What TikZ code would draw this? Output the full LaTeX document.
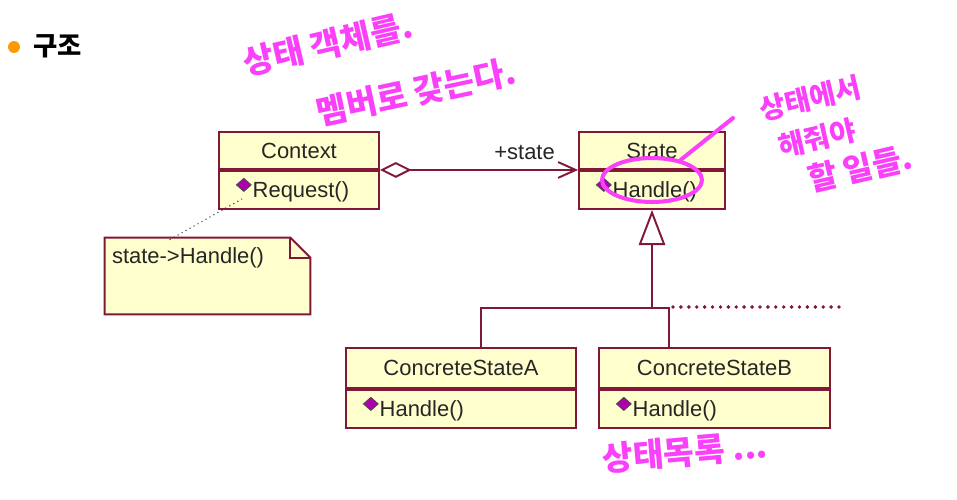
\documentclass[tikz,border=0pt]{standalone}
\usepackage{fontspec}
\setmainfont{Liberation Sans}
\newfontfamily\kr{Noto Sans CJK KR}
\usetikzlibrary{arrows.meta, positioning, shapes.geometric, calc}
\definecolor{umlred}{RGB}{128,24,56}
\definecolor{umlfill}{RGB}{255,255,206}
\definecolor{pen}{RGB}{250,64,250}
\definecolor{bul}{RGB}{255,153,0}
\definecolor{opic}{RGB}{175,0,175}

% small operation marker in front of a method
\newcommand{\opmark}{\tikz[x=1pt,y=1pt,baseline=-3.4pt]{\draw[fill=opic,draw=black!70,line width=0.5pt] (0,3.7)--(4.2,7.4)--(8.4,3.7)--(4.2,0)--cycle;}\hspace{0.6pt}}

\begin{document}
\begin{tikzpicture}[x=0.02cm, y=-0.02cm,
  cls/.style={draw=umlred, fill=umlfill, line width=1.1pt, inner sep=0pt,
              minimum height=0.74cm, font=\fontsize{12.5}{15}\selectfont, text=black!85},
  op/.style={cls, align=left, inner xsep=0.34cm, minimum height=0.76cm},
  umlline/.style={umlred, line width=1.1pt},
  agg/.style={umlline, {Diamond[open,length=18pt,width=9pt]}-{Straight Barb[length=10pt,width=9pt]}},
  gen/.style={umlline, -{Triangle[open,length=20pt,width=15pt]}},
  hand/.style={text=pen, font=\kr\bfseries\fontsize{19}{22}\selectfont, inner sep=0pt},
  penline/.style={pen, line width=2.3pt, line cap=round}
]
\useasboundingbox[fill=white] (0,0) rectangle (957,500);

% title
\node[circle, fill=bul, minimum size=0.24cm, inner sep=0pt] (dot) at (14,47) {};
\node[anchor=west, inner sep=0pt, font=\kr\bfseries\fontsize{15}{18}\selectfont] (ttl) at (33,46) {구조};

% classes
\node[cls, minimum width=3.2cm] (ctx) at (299,150.5) {Context};
\node[op, below=0pt of ctx, text width=2.52cm] (ctxop) {\opmark Request()};
\node[cls, minimum width=2.92cm] (st) at (652,150.5) {State};
\node[op, below=0pt of st, text width=2.24cm] (stop) {\opmark Handle()};
\node[cls, minimum width=4.6cm, minimum height=0.8cm] (csa) at (461,368) {ConcreteStateA};
\node[op, below=0pt of csa, text width=3.92cm] (csaop) {\opmark Handle()};
\node[cls, minimum width=4.62cm, minimum height=0.8cm] (csb) at (714.5,368) {ConcreteStateB};
\node[op, below=0pt of csb, text width=3.94cm] (csbop) {\opmark Handle()};

% note
\node[minimum width=4.1cm, minimum height=1.52cm] (nt) at (207.5,276) {};
\path[draw=umlred, fill=umlfill, line width=1.1pt] (nt.north west) -- ($(nt.north east)+(-20,0)$)
  -- ($(nt.north east)+(0,20)$) -- (nt.south east) -- (nt.south west) -- cycle;
\draw[umlred, line width=1.1pt] ($(nt.north east)+(-20,0)$) |- ($(nt.north east)+(0,20)$);
\node[anchor=west, inner sep=0pt, font=\fontsize{12.5}{15}\selectfont, text=black!85] (ntt)
  at ($(nt.north west)+(7,20)$) {state->Handle()};
\draw[black!80, dotted, line width=0.6pt] ($(nt.north west)+(65,2)$) -- ($(ctxop.west)+(24,9)$);

% relations
\draw[agg] (ctx.south east) -- (st.south west) node[pos=0.73, above=5pt, inner sep=0pt,
  font=\fontsize{12.5}{15}\selectfont, text=black!85] {+state};
\coordinate (jn) at (652,308);
\coordinate (bl) at (481,308);
\coordinate (br) at (669,308);
\coordinate (dotend) at (840,307);
\draw[gen] (jn) -- (stop.south);
\draw[umlline] (bl |- csa.north) -- (bl) -- (br) -- (br |- csb.north);
\draw[umlred, line width=2.2pt, line cap=round, dash pattern=on 0pt off 4.5pt] (br) ++(4,-1) -- (dotend);

% pen notes
\node[hand, rotate=13] (an1) at (328,44) {상태 객체를.};
\node[hand, rotate=12] (an2) at (416,92) {멤버로 갖는다.};
\node[hand, rotate=13, align=left, font=\kr\bfseries\fontsize{16}{23}\selectfont] (an3) at (836,134)
  {상태에서\\\hspace{6pt}해줘야\\\hspace{18pt}{\fontsize{18}{23}\selectfont 할 일들.}};
\node[hand, rotate=5] (an4) at (685,452) {상태목록 ...};
\node[ellipse, draw=pen, line width=2.3pt, minimum width=2cm, minimum height=0.88cm] (hl) at (652,180) {};
\coordinate (penend) at (733,118);
\draw[penline] (hl.35) -- (penend);
\end{tikzpicture}
\end{document}
